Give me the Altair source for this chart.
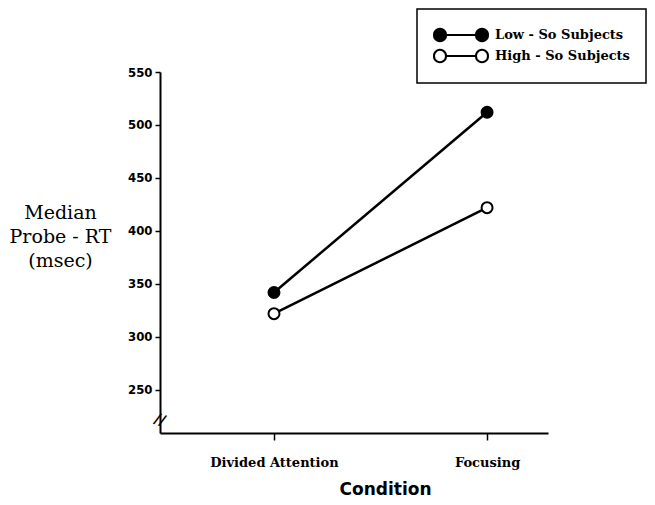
import altair as alt
import pandas as pd
import json

conditions = ["Divided Attention", "Focusing"]
groups = ["Low - So Subjects", "High - So Subjects"]
low_so = [342, 512]
high_so = [322, 422]
y_ticks = [250, 300, 350, 400, 450, 500, 550]
y_domain = [209.4, 550]
break_at = 222

rows = []
for g, vals in zip(groups, [low_so, high_so]):
    for i, (c, v) in enumerate(zip(conditions, vals)):
        rows.append({"group": g, "condition": c, "idx": i, "rt": v})
df = pd.DataFrame(rows)

labels_js = json.dumps(conditions)

x_enc = alt.X(
    "idx:Q",
    scale=alt.Scale(domain=[-0.535, 1.286], nice=False, zero=False),
    axis=alt.Axis(
        values=[0, 1],
        labelExpr=f"{labels_js}[datum.value]",
        title="Condition",
        grid=False,
        domainColor="black", domainWidth=2,
        tickColor="black", tickWidth=1.5, tickSize=7,
        labelFont="DejaVu Serif", labelFontWeight="bold", labelFontSize=13,
        labelColor="black", labelPadding=16,
        titleFont="DejaVu Sans", titleFontWeight="bold", titleFontSize=17,
        titleColor="black", titleX=225, titleY=61, titleBaseline="alphabetic",
        titleAlign="center",
    ),
)
y_enc = alt.Y(
    "rt:Q",
    scale=alt.Scale(domain=y_domain, nice=False, zero=False),
    axis=alt.Axis(
        values=y_ticks,
        title=["Median", "Probe - RT", "(msec)"],
        grid=False,
        domainColor="black", domainWidth=2,
        tickColor="black", tickWidth=1.5, tickSize=5,
        labelFont="DejaVu Sans Condensed, Liberation Sans Narrow, Liberation Sans",
        labelFontWeight="bold", labelFontSize=13, labelColor="black", labelPadding=3,
        titleFont="DejaVu Serif", titleFontWeight="normal", titleFontSize=19,
        titleColor="black", titleAngle=0, titleAlign="center",
        titleBaseline="alphabetic", titleX=-100, titleY=146, titleLineHeight=24,
    ),
)

lines = alt.Chart(df).mark_line(color="black", strokeWidth=2.5).encode(
    x=x_enc, y=y_enc, detail="group:N"
)

sym_path = (
    "M-1,0 a0.667,0.667 0 1,0 1.333,0 a0.667,0.667 0 1,0 -1.333,0 "
    "M0.333,0 L3.667,0 "
    "M3.667,0 a0.667,0.667 0 1,0 1.333,0 a0.667,0.667 0 1,0 -1.333,0"
)

points = alt.Chart(df).mark_point(
    filled=True, stroke="black", strokeWidth=2, size=120, opacity=1, shape="circle"
).encode(
    x="idx:Q",
    y="rt:Q",
    fill=alt.Fill(
        "group:N",
        scale=alt.Scale(domain=groups, range=["black", "white"]),
        legend=alt.Legend(
            title=None,
            orient="none",
            legendX=257,
            legendY=-63,
            symbolType=sym_path,
            symbolSize=324,
            symbolStrokeColor="black",
            symbolStrokeWidth=2,
            symbolOpacity=1,
            labelFont="DejaVu Serif",
            labelFontWeight="bold",
            labelFontSize=13,
            labelColor="black",
            labelOffset=42,
            padding=16,
            rowPadding=-5,
            strokeColor="black",
        ),
    ),
)

brk = alt.Chart(pd.DataFrame({"x": [-0.535], "y": [break_at]})).mark_text(
    text="//", fontSize=15, fontWeight="bold", font="DejaVu Sans", color="black", angle=20
).encode(x="x:Q", y="y:Q")

chart = (
    alt.layer(lines, points, brk)
    .properties(
        width=388,
        height=361,
        autosize=alt.AutoSizeParams(type="none"),
        padding={"left": 152, "top": 64, "right": 99, "bottom": 64},
    )
    .configure_view(stroke=None)
    .configure_legend(strokeWidth=1.5)
)

chart.save("out.html", embed_options={"renderer": "svg", "actions": False})
